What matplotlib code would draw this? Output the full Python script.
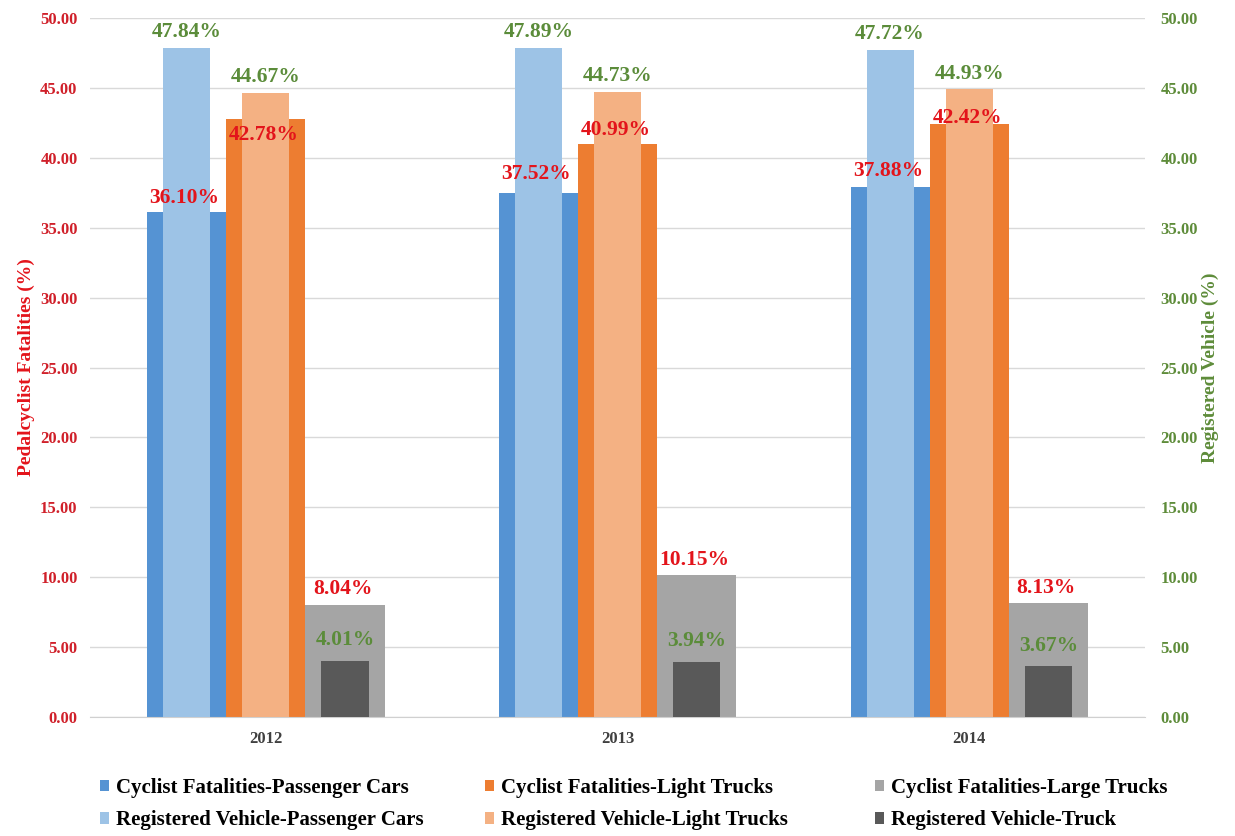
import numpy as np
import matplotlib.pyplot as plt

years = ["2012", "2013", "2014"]
fat_cars = [36.10, 37.52, 37.88]
fat_light = [42.78, 40.99, 42.42]
fat_large = [8.04, 10.15, 8.13]
reg_cars = [47.84, 47.89, 47.72]
reg_light = [44.67, 44.73, 44.93]
reg_truck = [4.01, 3.94, 3.67]

plt.rcParams['font.family'] = ['Liberation Serif', 'DejaVu Serif']
plt.rcParams['font.weight'] = 'bold'

RED = "#E3141B"
GREEN = "#5B8C3A"
RED_T = "#D0202A"
GREEN_T = "#5E8C3A"

fig = plt.figure(figsize=(12.35, 8.36), dpi=100)
ax = fig.add_axes([0.0729, 0.1423, 0.8543, 0.8361])
ax2 = ax.twinx()

x = np.arange(len(years))
off = 0.225
wf = 0.225
wr = 0.134

fat = [(fat_cars, "#5593D3", "Cyclist Fatalities-Passenger Cars"),
       (fat_light, "#ED7D31", "Cyclist Fatalities-Light Trucks"),
       (fat_large, "#A5A5A5", "Cyclist Fatalities-Large Trucks")]
reg = [(reg_cars, "#9DC3E6", "Registered Vehicle-Passenger Cars"),
       (reg_light, "#F4B183", "Registered Vehicle-Light Trucks"),
       (reg_truck, "#595959", "Registered Vehicle-Truck")]

# label offsets in points above the bar top (label centre)
fat_dy = [[10, 13, 12], [-11.5, 10, 4.5], [11, 11, 11]]
reg_dy = [[11.5, 11.5, 11.5], [11, 11, 11], [15, 15, 14]]

col_handles = []
for i, ((fv, fc, fl), (rv, rc, rl)) in enumerate(zip(fat, reg)):
    pos = x + (i - 1) * off
    hf = ax.bar(pos, fv, wf, color=fc, label=fl, zorder=2, linewidth=0)
    hr = ax2.bar(pos, rv, wr, color=rc, label=rl, zorder=3, linewidth=0)
    col_handles.append([hf, hr])
    for j in range(len(years)):
        ax2.annotate(f"{fv[j]:.2f}%", (pos[j], fv[j]), xytext=(-1.5, fat_dy[i][j]),
                     textcoords="offset points", ha="center", va="center",
                     color=RED, fontsize=15.5, fontweight="bold", zorder=5)
        ax2.annotate(f"{rv[j]:.2f}%", (pos[j], rv[j]), xytext=(0, reg_dy[i][j]),
                     textcoords="offset points", ha="center", va="center",
                     color=GREEN, fontsize=15.5, fontweight="bold", zorder=5)

ticks = np.arange(0, 50.1, 5)
for a, col, pad in ((ax, RED_T, 9), (ax2, GREEN_T, 11)):
    a.set_ylim(0, 50)
    a.set_yticks(ticks)
    a.set_yticklabels([f"{v:.2f}" for v in ticks], color=col,
                      fontsize=12, fontweight="bold")
    a.tick_params(axis="y", length=0, pad=pad)
    for s in a.spines.values():
        s.set_visible(False)

ax.set_xlim(-0.5, 2.5)
ax.set_xticks(x)
ax.set_xticklabels(years, fontsize=12, fontweight="bold", color="#404040")
ax.tick_params(axis="x", length=0, pad=10)
ax.spines["bottom"].set_visible(True)
ax.spines["bottom"].set_color("#D0D0D0")
ax.yaxis.grid(True, color="#D9D9D9", linewidth=1, zorder=0)
ax.set_axisbelow(True)

ax.set_ylabel("Pedalcyclist Fatalities (%)", color=RED, fontsize=14, fontweight="bold")
ax.yaxis.set_label_coords(-0.052, 0.5)
ax2.set_ylabel("Registered Vehicle (%)", color=GREEN_T, fontsize=14, fontweight="bold")
ax2.yaxis.set_label_coords(1.054, 0.5)

# legend: three columns, placed like the original
leg_x = [0.081, 0.3927, 0.7085]
for hx, hs in zip(leg_x, col_handles):
    fig.legend(handles=hs, loc="upper left", bbox_to_anchor=(hx, 0.0694),
               frameon=False, handlelength=0.45, handleheight=0.45,
               handletextpad=0.3, labelspacing=0.6, borderpad=0, borderaxespad=0,
               prop={"weight": "bold", "size": 15})

fig.savefig("out.png", dpi=100)
